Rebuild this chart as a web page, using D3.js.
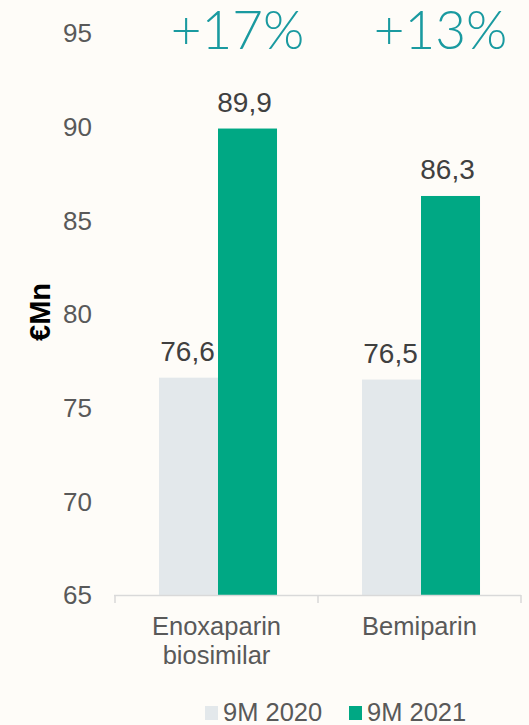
<!DOCTYPE html>
<html>
<head>
<meta charset="utf-8">
<script src="https://cdn.jsdelivr.net/npm/d3@7"></script>
<style>
  html, body { margin: 0; padding: 0; background: #fefcf8; }
  svg { display: block; font-family: "Liberation Sans", Arial, sans-serif; }
</style>
</head>
<body>
<svg id="chart" width="529" height="725"></svg>
<script>
// ---- data ----
const categories = ['Enoxaparin biosimilar', 'Bemiparin'];
const categoryLines = [['Enoxaparin', 'biosimilar'], ['Bemiparin']];
const seriesNames = ['9M 2020', '9M 2021'];
const values2020 = [76.6, 76.5];
const values2021 = [89.9, 86.3];
const growthLabels = ['+17%', '+13%'];
const yTicks = [65, 70, 75, 80, 85, 90, 95];

const colors = ['#e3e8eb', '#00a884'];
const fmt = v => d3.format('.1f')(v).replace('.', ',');

const svg = d3.select('#chart');
const W = 529, H = 725;
const margin = { left: 115, right: 8, top: 33, bottom: 130 };

const x = d3.scaleBand().domain(categories).range([margin.left, W - margin.right]);
const x1 = d3.scaleBand().domain(seriesNames).range([1.5, x.bandwidth() + 1.5]).paddingInner(0).paddingOuter(0.72);
const y = d3.scaleLinear().domain([65, 95]).range([H - margin.bottom, margin.top]);

// y tick labels (no axis line)
svg.append('g')
  .selectAll('text')
  .data(yTicks)
  .join('text')
  .attr('x', 92)
  .attr('y', d => y(d))
  .attr('dy', '0.36em')
  .attr('text-anchor', 'end')
  .attr('font-size', 26)
  .attr('fill', '#595959')
  .text(d => d);

// y title
svg.append('text')
  .attr('transform', `translate(50,${y(80) - 2}) rotate(-90)`)
  .attr('text-anchor', 'middle')
  .attr('font-size', 29)
  .attr('font-weight', 'bold')
  .attr('fill', '#000')
  .text('€Mn');

// bars + value labels
const series = [values2020, values2021];
const g = svg.append('g');
categories.forEach((c, i) => {
  seriesNames.forEach((s, j) => {
    const v = series[j][i];
    g.append('rect')
      .attr('x', x(c) + x1(s))
      .attr('y', y(v))
      .attr('width', x1.bandwidth())
      .attr('height', y(65) - y(v))
      .attr('fill', colors[j]);
    g.append('text')
      .attr('x', x(c) + x1(s) + x1.bandwidth() / 2 - (j === 0 ? 1 : 3))
      .attr('y', y(v) - 17)
      .attr('text-anchor', 'middle')
      .attr('font-size', 28)
      .attr('fill', '#404040')
      .text(fmt(v));
  });
  // growth label
  svg.append('text')
    .attr('x', x(c) + x.bandwidth() / 2 + 21)
    .attr('y', 49)
    .attr('text-anchor', 'middle')
    .attr('font-family', 'Lato, "Open Sans", sans-serif')
    .attr('font-weight', 300)
    .attr('font-size', 53)
    .attr('fill', '#1a9aa0')
    .text(growthLabels[i]);
});

// x axis
const xAxis = svg.append('g');
xAxis.append('line')
  .attr('x1', margin.left - 1).attr('x2', W - margin.right)
  .attr('y1', y(65) + 0.5).attr('y2', y(65) + 0.5)
  .attr('stroke', '#d9d9d9').attr('stroke-width', 1.5);
const edges = categories.map(c => x(c)).concat([x(categories[categories.length - 1]) + x.bandwidth()]);
xAxis.selectAll('line.tick')
  .data(edges)
  .join('line')
  .attr('class', 'tick')
  .attr('x1', d => d).attr('x2', d => d)
  .attr('y1', y(65)).attr('y2', y(65) + 8)
  .attr('stroke', '#d9d9d9').attr('stroke-width', 1.5);

categories.forEach((c, i) => {
  const t = svg.append('text')
    .attr('text-anchor', 'middle')
    .attr('font-size', 25.5)
    .attr('fill', '#595959');
  categoryLines[i].forEach((line, k) => {
    t.append('tspan')
      .attr('x', x(c) + x.bandwidth() / 2)
      .attr('y', 635 + k * 29)
      .text(line);
  });
});

// legend
const legendX = [205, 349];
seriesNames.forEach((s, j) => {
  svg.append('rect')
    .attr('x', legendX[j]).attr('y', 706)
    .attr('width', 13).attr('height', 14)
    .attr('fill', colors[j]);
  svg.append('text')
    .attr('x', legendX[j] + 18).attr('y', 721)
    .attr('font-size', 25.5)
    .attr('fill', '#595959')
    .text(s);
});
</script>
</body>
</html>
